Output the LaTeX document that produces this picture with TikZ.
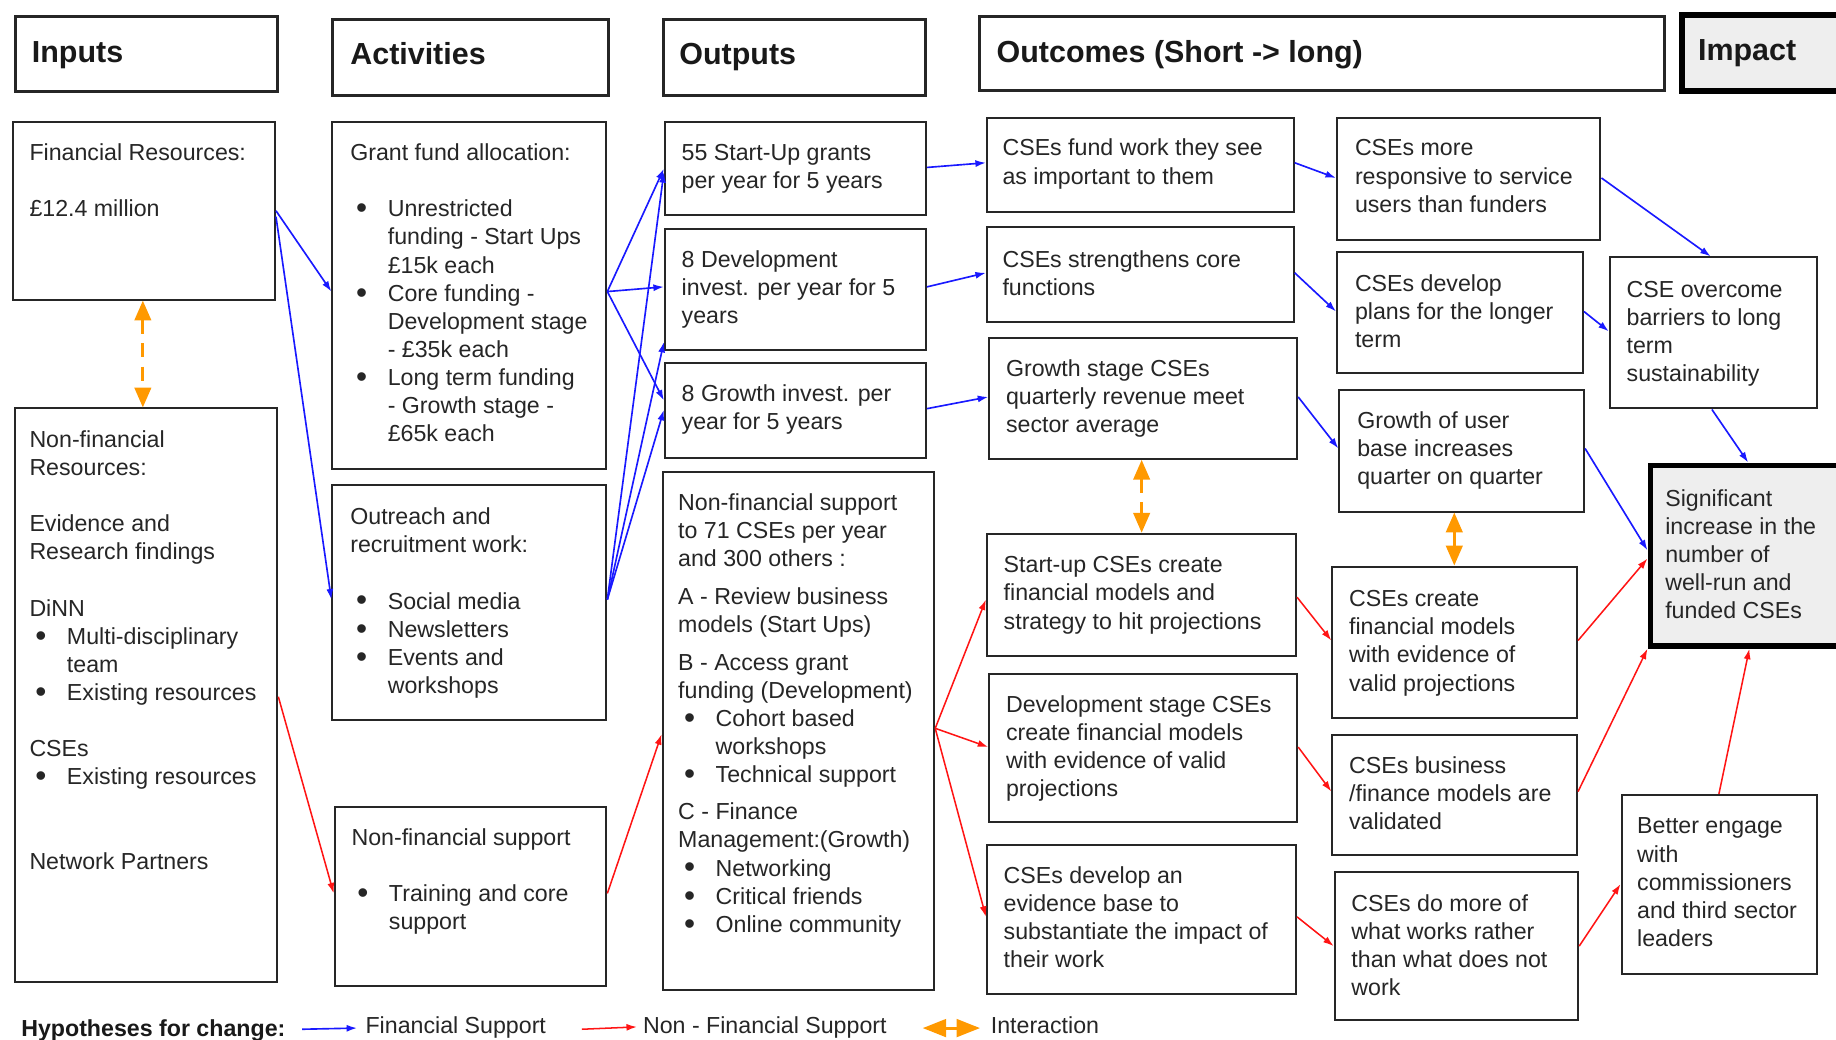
\documentclass[tikz,border=0pt]{standalone}
\usepackage{fontspec}
\setmainfont{Liberation Sans}
\usetikzlibrary{arrows.meta,calc}
\definecolor{finblue}{RGB}{25,25,255}
\definecolor{nfred}{RGB}{255,20,20}
\definecolor{intorange}{RGB}{255,153,0}
\definecolor{impgray}{RGB}{238,238,238}
\newcommand\fs{\fontsize{19.8}{24}\selectfont}
\newcommand\mybul{\hspace*{5pt}\makebox[27pt][l]{\raisebox{-1.6pt}{\fontsize{27}{24}\selectfont\textbullet}}}
\newcommand\indt{\hspace*{32pt}}
\newcommand\bx[6]{\node[#6, anchor=north west, minimum width={#4pt-#2pt}, minimum height={#5pt-#3pt}, inner sep=0pt] (#1) at (#2,#3) {};}
\begin{document}
\begin{tikzpicture}[x=1pt,y=-1pt,
  box/.style={draw=black!85, line width=1.7pt, fill=white},
  hbox/.style={draw=black!85, line width=2.6pt, fill=white},
  ibox/.style={draw=black, line width=5pt, fill=impgray},
  txt/.style={anchor=north west, inner sep=0pt, align=left, yshift=9.8pt, font=\fs, text=black!85},
  htxt/.style={anchor=base west, inner sep=0pt, font=\fontsize{26}{30}\selectfont\bfseries, text=black!90},
  ltxt/.style={anchor=base west, inner sep=0pt, font=\fs, text=black!85},
  fin/.style={draw=finblue, line width=1.4pt, -{Latex[length=9pt,width=6pt]}},
  nfin/.style={draw=nfred, line width=1.3pt, -{Latex[length=9pt,width=6pt]}},
  inter/.style={draw=intorange, line width=2.6pt, dash pattern=on 12pt off 8pt, {Triangle[length=17pt,width=14pt]}-{Triangle[length=17pt,width=14pt]}}
]
\clip (0,0) rectangle (1568,888);
\fill[white] (0,0) rectangle (1568,888);

% headers
\bx{hin}{12}{13}{236}{77}{hbox}
\bx{hact}{283}{15}{518}{80}{hbox}
\bx{hout}{565}{15}{789}{80}{hbox}
\bx{hoc}{835}{13}{1420}{76}{hbox}
\bx{himp}{1434}{10}{1590}{75}{ibox}
\node[htxt] (hin-t) at (27,53.3) {Inputs};
\node[htxt] (hact-t) at (299,55.3) {Activities};
\node[htxt] (hout-t) at (580,55.3) {Outputs};
\node[htxt] (hoc-t) at (851,53.3) {Outcomes (Short -> long)};
\node[htxt] (himp-t) at (1450,51.3) {Impact};

% boxes
\bx{finres}{10}{103}{234}{255}{box}
\bx{nonfin}{12}{348}{236}{838}{box}
\bx{grant}{283}{103}{517}{400}{box}
\bx{outreach}{283}{413}{517}{614}{box}
\bx{nfsup}{285}{688}{517}{841}{box}
\bx{o1}{567}{103}{790}{183}{box}
\bx{o2}{567}{195}{790}{298}{box}
\bx{o3}{567}{309}{790}{390}{box}
\bx{o4}{565}{402}{797}{845}{box}
\bx{s1}{842}{100}{1104}{180}{box}
\bx{s2}{842}{193}{1104}{274}{box}
\bx{s3}{844}{288}{1107}{391}{box}
\bx{s4}{842}{455}{1106}{559}{box}
\bx{s5}{844}{575}{1107}{701}{box}
\bx{s6}{842}{721}{1106}{848}{box}
\bx{m1}{1141}{100}{1366}{204}{box}
\bx{m2}{1141}{214}{1351}{318}{box}
\bx{m3}{1143}{332}{1352}{436}{box}
\bx{m4}{1137}{483}{1346}{612}{box}
\bx{m5}{1137}{627}{1346}{729}{box}
\bx{m6}{1139}{744}{1347}{870}{box}
\bx{l1}{1374}{219}{1551}{348}{box}
\bx{l2}{1384}{678}{1551}{831}{box}
\bx{sig}{1407}{395}{1590}{549}{ibox}

% texts
\node[txt] (finres-t) at (25,130) {\strut Financial Resources:\\[24pt]£12.4 million};
\node[txt] (nonfin-t) at (25,375) {\strut Non-financial\\Resources:\\[24pt]Evidence and\\Research findings\\[24pt]DiNN\\\mybul Multi-disciplinary\\\indt team\\\mybul Existing resources\\[24pt]CSEs\\\mybul Existing resources\\[48pt]Network Partners};
\node[txt] (grant-t) at (299,130) {\strut Grant fund allocation:\\[24pt]\mybul Unrestricted\\\indt funding - Start Ups\\\indt £15k each\\\mybul Core funding -\\\indt Development stage\\\indt - £35k each\\\mybul Long term funding\\\indt - Growth stage -\\\indt £65k each};
\node[txt] (outreach-t) at (299,441) {\strut Outreach and\\recruitment work:\\[24pt]\mybul Social media\\\mybul Newsletters\\\mybul Events and\\\indt workshops};
\node[txt] (nfsup-t) at (300,715) {\strut Non-financial support\\[24pt]\mybul Training and core\\\indt support};
\node[txt] (o1-t) at (582,130) {\strut 55 Start-Up grants\\per year for 5 years};
\node[txt] (o2-t) at (582,221) {\strut 8 Development\\invest. per year for 5\\years};
\node[txt] (o3-t) at (582,336) {\strut 8 Growth invest. per\\year for 5 years};
\node[txt] (o4-t) at (579,429) {\strut Non-financial support\\to 71 CSEs per year\\and 300 others :\\[8pt]A - Review business\\models (Start Ups)\\[8pt]B - Access grant\\funding (Development)\\\mybul Cohort based\\\indt workshops\\\mybul Technical support\\[8pt]C - Finance\\Management:(Growth)\\\mybul Networking\\\mybul Critical friends\\\mybul Online community};
\node[txt] (s1-t) at (856,126) {\strut CSEs fund work they see\\as important to them};
\node[txt] (s2-t) at (856,221) {\strut CSEs strengthens core\\functions};
\node[txt] (s3-t) at (859,314) {\strut Growth stage CSEs\\quarterly revenue meet\\sector average};
\node[txt] (s4-t) at (857,482) {\strut Start-up CSEs create\\financial models and\\strategy to hit projections};
\node[txt] (s5-t) at (859,601) {\strut Development stage CSEs\\create financial models\\with evidence of valid\\projections};
\node[txt] (s6-t) at (857,747) {\strut CSEs develop an\\evidence base to\\substantiate the impact of\\their work};
\node[txt] (m1-t) at (1157,126) {\strut CSEs more\\responsive to service\\users than funders};
\node[txt] (m2-t) at (1157,242) {\strut CSEs develop\\plans for the longer\\term};
\node[txt] (m3-t) at (1159,359) {\strut Growth of user\\base increases\\quarter on quarter};
\node[txt] (m4-t) at (1152,511) {\strut CSEs create\\financial models\\with evidence of\\valid projections};
\node[txt] (m5-t) at (1152,653) {\strut CSEs business\\/finance models are\\validated};
\node[txt] (m6-t) at (1154,771) {\strut CSEs do more of\\what works rather\\than what does not\\work};
\node[txt] (l1-t) at (1389,247) {\strut CSE overcome\\barriers to long\\term\\sustainability};
\node[txt] (l2-t) at (1398,705) {\strut Better engage\\with\\commissioners\\and third sector\\leaders};
\node[txt] (sig-t) at (1422,425) {\strut Significant\\increase in the\\number of\\well-run and\\funded CSEs};

% financial (blue)
\draw[fin] (finres.east |- 0,180) -- (grant.west |- 0,249);
\draw[fin] (finres.east |- 0,185) -- (outreach.west |- 0,512);
\draw[fin] (grant.east |- 0,249) -- (o1.west |- 0,144);
\draw[fin] (grant.east |- 0,249) -- (o2.west |- 0,245);
\draw[fin] (grant.east |- 0,249) -- (o3.west |- 0,342);
\draw[fin] (outreach.east |- 0,512) -- (o1.west |- 0,147);
\draw[fin] (outreach.east |- 0,512) -- (o2.west |- 0,292);
\draw[fin] (outreach.east |- 0,512) -- (o3.west |- 0,350);
\draw[fin] (o1.east |- 0,143) -- (s1.west |- 0,139);
\draw[fin] (o2.east |- 0,245) -- (s2.west |- 0,233);
\draw[fin] (o3.east |- 0,349) -- (s3.west |- 0,339);
\draw[fin] (s1.east |- 0,139) -- (m1.west |- 0,152);
\draw[fin] (s2.east |- 0,233) -- (m2.west |- 0,266);
\draw[fin] (s3.east |- 0,339) -- (m3.west |- 0,383);
\draw[fin] (m1.east |- 0,152) -- (l1.north -| 1461,0);
\draw[fin] (m2.east |- 0,266) -- (l1.west |- 0,283);
\draw[fin] (m3.east |- 0,383) -- (sig.west |- 0,470);
\draw[fin] (l1.south -| 1462,0) -- (sig.north -| 1493,0);

% non-financial (red)
\draw[nfin] (nonfin.east |- 0,595) -- (nfsup.west |- 0,763);
\draw[nfin] (nfsup.east |- 0,763) -- (o4.west |- 0,627);
\draw[nfin] (o4.east |- 0,622) -- (s4.west |- 0,512);
\draw[nfin] (o4.east |- 0,622) -- (s5.west |- 0,638);
\draw[nfin] (o4.east |- 0,622) -- (s6.west |- 0,783);
\draw[nfin] (s4.east |- 0,510) -- (m4.west |- 0,547);
\draw[nfin] (s5.east |- 0,638) -- (m5.west |- 0,676);
\draw[nfin] (s6.east |- 0,783) -- (m6.west |- 0,808);
\draw[nfin] (m4.east |- 0,547) -- (sig.west |- 0,477);
\draw[nfin] (m5.east |- 0,676) -- (sig.south west);
\draw[nfin] (m6.east |- 0,808) -- (l2.west |- 0,755);
\draw[nfin] (l2.north -| 1468,0) -- (sig.south -| 1494,0);

% interactions (orange)
\draw[inter] (finres.south -| 122,0) -- (nonfin.north -| 122,0);
\draw[inter] (s3.south -| 975,0) -- (s4.north -| 975,0);
\draw[inter] (m3.south -| 1242,0) -- (m4.north -| 1242,0);

% legend
\node[anchor=base west, inner sep=0pt, font=\fs\bfseries, text=black!90] (leg) at (18,885) {Hypotheses for change:};
\coordinate (lfa) at (258,879);
\coordinate (lfb) at (305,878);
\draw[fin] (lfa) -- (lfb);
\node[ltxt] (legfin) at (312,883) {Financial Support};
\coordinate (lna) at (497,879);
\coordinate (lnb) at (544,877);
\draw[nfin] (lna) -- (lnb);
\node[ltxt] (legnfin) at (549,883) {Non - Financial Support};
\coordinate (lia) at (788,878);
\coordinate (lib) at (837,878);
\draw[draw=intorange, line width=2.6pt, {Triangle[length=20pt,width=15pt]}-{Triangle[length=20pt,width=15pt]}] (lia) -- (lib);
\node[ltxt] (legint) at (846,883) {Interaction};
\end{tikzpicture}
\end{document}
